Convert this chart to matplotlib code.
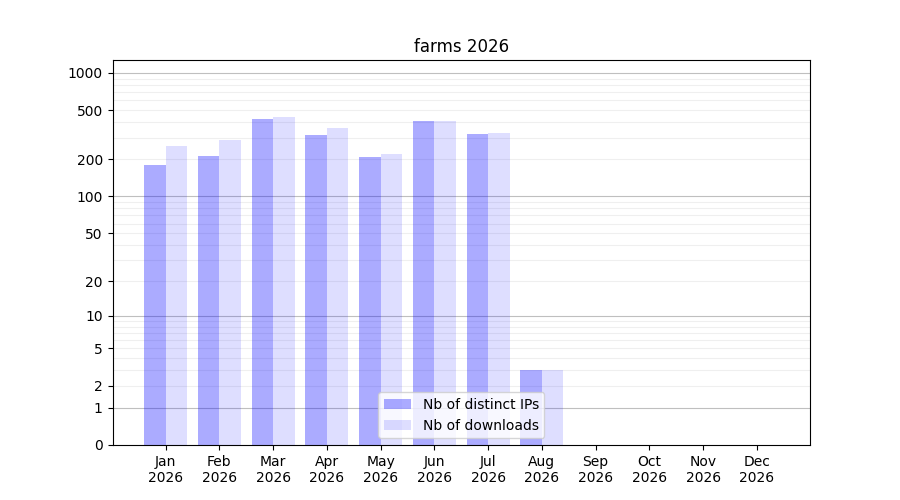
import numpy as np
import matplotlib
matplotlib.use("Agg")
import matplotlib.pyplot as plt

months = ["Jan", "Feb", "Mar", "Apr", "May", "Jun", "Jul", "Aug", "Sep", "Oct", "Nov", "Dec"]
year = "2026"
distinct_ips = [180, 214, 425, 315, 209, 409, 321, 3, 0, 0, 0, 0]
downloads = [258, 288, 442, 359, 221, 409, 327, 3, 0, 0, 0, 0]
yticks = [0, 1, 2, 5, 10, 20, 50, 100, 200, 500, 1000]


def forward(y):
    return np.log10(np.asarray(y) + 1.0)


def inverse(y):
    return 10.0 ** np.asarray(y) - 1.0


fig = plt.figure(figsize=[9, 5], dpi=100)
ax = fig.add_subplot(111)

x = np.arange(len(months))
ax.bar(x - 0.2, distinct_ips, width=0.4, color="blue", alpha=0.33, label="Nb of distinct IPs", zorder=2)
ax.bar(x + 0.2, downloads, width=0.4, color="blue", alpha=0.13, label="Nb of downloads", zorder=2)

ax.set_yscale("function", functions=(forward, inverse))
ax.set_ylim(0, 1270)

# grille : traits plus foncés aux puissances de 10, clairs entre
for d in [1, 10, 100]:
    ax.axhline(d, color="gray", alpha=0.5, lw=0.8, zorder=1)
    for m in range(2, 10):
        ax.axhline(d * m, color="gray", alpha=0.12, lw=0.8, zorder=1)
ax.axhline(1000, color="gray", alpha=0.5, lw=0.8, zorder=1)

ax.set_yticks(yticks)
ax.set_yticklabels([str(v) for v in yticks])
ax.minorticks_off()
ax.set_xticks(x)
ax.set_xticklabels([m + "\n" + year for m in months])

ax.set_title("farms " + year)
ax.legend(loc="lower center")
fig.savefig("out.png", dpi=100)
